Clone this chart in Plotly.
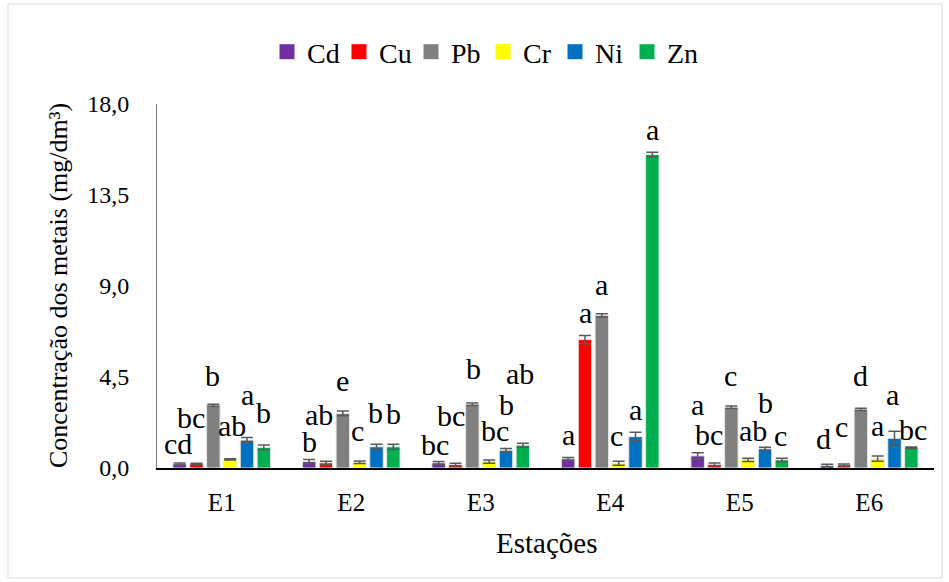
import plotly.graph_objects as go

stations = ["E1", "E2", "E3", "E4", "E5", "E6"]
metals = ["Cd", "Cu", "Pb", "Cr", "Ni", "Zn"]

cd = [0.20, 0.32, 0.25, 0.45, 0.60, 0.12]
cu = [0.20, 0.25, 0.17, 6.35, 0.18, 0.15]
pb = [3.10, 2.70, 3.15, 7.55, 3.00, 2.90]
cr = [0.43, 0.28, 0.32, 0.23, 0.40, 0.46]
ni = [1.38, 1.05, 0.88, 1.55, 0.95, 1.47]
zn = [1.02, 1.05, 1.13, 15.50, 0.40, 1.00]

cd_err = [0.05, 0.10, 0.07, 0.07, 0.16, 0.07]
cu_err = [0.04, 0.08, 0.06, 0.20, 0.07, 0.05]
pb_err = [0.05, 0.12, 0.06, 0.08, 0.06, 0.06]
cr_err = [0.03, 0.06, 0.08, 0.10, 0.08, 0.13]
ni_err = [0.13, 0.13, 0.08, 0.22, 0.08, 0.35]
zn_err = [0.12, 0.12, 0.10, 0.12, 0.08, 0.04]

cd_let = ["cd", "b", "bc", "a", "a", "d"]
cu_let = ["bc", "ab", "bc", "a", "bc", "c"]
pb_let = ["b", "e", "b", "a", "c", "d"]
cr_let = ["ab", "c", "bc", "c", "ab", "a"]
ni_let = ["a", "b", "b", "a", "b", "a"]
zn_let = ["b", "b", "ab", "a", "c", "bc"]

values = [cd, cu, pb, cr, ni, zn]
errors = [cd_err, cu_err, pb_err, cr_err, ni_err, zn_err]
letters = [cd_let, cu_let, pb_let, cr_let, ni_let, zn_let]

# styling
colors = ["#7030A0", "#FF0000", "#808080", "#FFFF00", "#0070C0", "#00B050"]
FONT = "Liberation Serif, Times New Roman, serif"
# label nudges (pixels): gap above error bar top, horizontal nudge
label_gap = [
    [9, 8, 7, 12, 38, 15],
    [35, 36, 37, 13, 18, 27],
    [18, 20, 24, 19, 20, 22],
    [23, 20, 19, 15, 17, 20],
    [32, 21, 34, 12, 34, 26],
    [22, 20, 59, 12, 12, 7],
]
label_dx = [
    [-2, 0, -4, 0, 0, -4],
    [-6, -7, -5, 0, -6, -3],
    [-1, 0, 1, 0, -1, 0],
    [2, -2, 6, -2, 5, 0],
    [0, -1, 0, 0, 0, -2],
    [0, 0, -3, 0, -1, 2],
]

bargap = 0.22
bargroupgap = 0.2

fig = go.Figure()
for m, v, e, c in zip(metals, values, errors, colors):
    fig.add_trace(go.Bar(
        name=m, x=stations, y=v, showlegend=False, legendgroup=m,
        marker=dict(color=c, line=dict(color="#E6E6E6", width=1)),
        error_y=dict(type="data", array=e, visible=True, color="#595959",
                     thickness=1.5, width=6),
    ))
# legend entries with larger square swatches
for m, c in zip(metals, colors):
    fig.add_trace(go.Scatter(
        name=m, x=[None], y=[None], mode="markers", legendgroup=m,
        marker=dict(symbol="square", size=15, color=c),
    ))

n = len(metals)
slot = (1 - bargap) / n
annotations = []
for i in range(n):
    for j, st in enumerate(stations):
        xpos = j + (i - (n - 1) / 2) * slot
        annotations.append(dict(
            x=xpos, y=values[i][j] + errors[i][j], xref="x", yref="y",
            text=letters[i][j], showarrow=False, xanchor="center", yanchor="bottom",
            yshift=label_gap[i][j] - 8, xshift=label_dx[i][j],
            font=dict(family=FONT, size=30, color="black"),
        ))

# plot-area pixel geometry helpers (for paper coordinates)
L, R, T, B = 157, 934, 104, 468
W, H = R - L, B - T
def px(x):
    return (x - L) / W
def py(y):
    return (B - y) / H

annotations.append(dict(
    x=px(58), y=0.5, xref="paper", yref="paper", text="Concentração dos metais (mg/dm³)",
    textangle=-90, showarrow=False, xanchor="center", yanchor="middle",
    font=dict(family=FONT, size=26, color="black"),
))
annotations.append(dict(
    x=px(546), y=py(543), xref="paper", yref="paper", text="Estações",
    showarrow=False, xanchor="center", yanchor="middle",
    font=dict(family=FONT, size=29, color="black"),
))

fig.update_layout(
    width=949, height=582,
    margin=dict(l=L, r=949 - R, t=T, b=582 - B, pad=0),
    paper_bgcolor="white", plot_bgcolor="white",
    barmode="group", bargap=bargap, bargroupgap=bargroupgap,
    separators=",.",
    font=dict(family=FONT, size=24, color="black"),
    showlegend=True,
    legend=dict(orientation="h", x=px(267), y=py(52), xanchor="left", yanchor="middle",
                font=dict(family=FONT, size=28), itemwidth=30, traceorder="normal",
                entrywidth=27, entrywidthmode="pixels",
                bgcolor="rgba(0,0,0,0)"),
    annotations=annotations,
    shapes=[dict(type="rect", xref="paper", yref="paper",
                 x0=px(8), x1=px(942), y0=py(578), y1=py(4),
                 line=dict(color="#D9D9D9", width=1), layer="below")],
)
fig.update_xaxes(showline=True, linecolor="black", linewidth=2, showgrid=False,
                 ticks="", ticklabelstandoff=11, tickfont=dict(family=FONT, size=25))
fig.update_yaxes(range=[0, 18], tickvals=[0, 4.5, 9, 13.5, 18], tickformat=".1f",
                 showline=True, linecolor="#7F7F7F", linewidth=1, showgrid=False,
                 zeroline=False, ticks="", ticklabelstandoff=22,
                 tickfont=dict(family=FONT, size=24))

fig.write_html("out.html")
